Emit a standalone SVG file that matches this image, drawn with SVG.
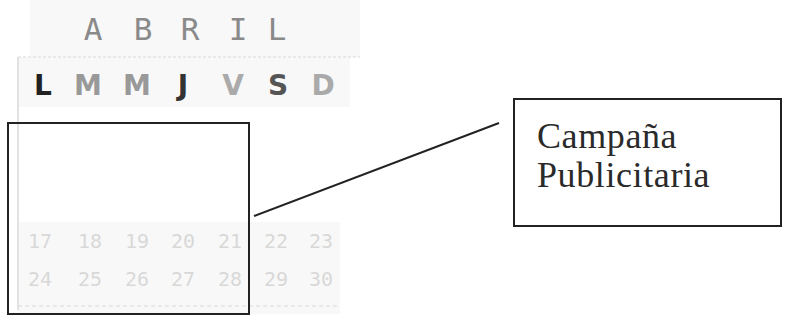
<svg xmlns="http://www.w3.org/2000/svg" width="788" height="320" viewBox="0 0 788 320">
<style>
.hdr{font-family:"DejaVu Sans Mono","Liberation Mono",monospace;font-size:31px;text-anchor:middle;fill:#8a8a8a}
.day{font-family:"DejaVu Sans",sans-serif;font-size:28px;font-weight:bold;text-anchor:middle}
.num{font-family:"DejaVu Sans Mono",monospace;font-size:20px;text-anchor:middle;fill:#d8d8d8}
.box{fill:none;stroke:#222;stroke-width:2}
.lbl{font-family:"Liberation Serif","Times New Roman",serif;font-size:36px;letter-spacing:0.6px;fill:#2a2a2a}
</style>
<rect width="788" height="320" fill="#fff"/>
<g id="calendar">
  <rect x="30" y="0" width="330" height="57" fill="#f8f8f8"/>
  <rect x="18" y="57" width="332" height="50" fill="#f8f8f8"/>
  <rect x="18" y="222" width="322" height="92" fill="#f8f8f8"/>
  <line x1="18" y1="57" x2="360" y2="57" stroke="#d8d8d8" stroke-width="1" stroke-dasharray="3 2"/>
  <line x1="18" y1="57" x2="18" y2="310" stroke="#e2e2e2" stroke-width="2"/>
  <line x1="18" y1="306" x2="340" y2="306" stroke="#dadada" stroke-width="1" stroke-dasharray="4 3"/>
  <text class="hdr" x="93" y="40">A</text>
  <text class="hdr" x="143" y="40">B</text>
  <text class="hdr" x="190" y="40">R</text>
  <text class="hdr" x="238" y="40" fill="#777">I</text>
  <text class="hdr" x="277" y="40">L</text>
  <text class="day" x="43" y="95" fill="#222">L</text>
  <text class="day" x="88" y="95" fill="#999">M</text>
  <text class="day" x="137" y="95" fill="#999">M</text>
  <text class="day" x="183" y="95" fill="#333">J</text>
  <text class="day" x="233" y="95" fill="#aaa">V</text>
  <text class="day" x="278" y="95" fill="#555">S</text>
  <text class="day" x="323" y="95" fill="#aaa">D</text>
  <text class="num" x="40" y="248">17</text>
  <text class="num" x="90" y="248">18</text>
  <text class="num" x="137" y="248">19</text>
  <text class="num" x="183" y="248">20</text>
  <text class="num" x="230" y="248">21</text>
  <text class="num" x="276" y="248">22</text>
  <text class="num" x="321" y="248">23</text>
  <text class="num" x="40" y="286">24</text>
  <text class="num" x="90" y="286">25</text>
  <text class="num" x="137" y="286">26</text>
  <text class="num" x="183" y="286">27</text>
  <text class="num" x="230" y="286">28</text>
  <text class="num" x="276" y="286">29</text>
  <text class="num" x="321" y="286">30</text>
</g>
<g id="highlight">
  <rect class="box" x="8" y="123" width="241" height="191"/>
</g>
<g id="connectors">
  <line x1="254" y1="216" x2="499" y2="123" stroke="#222" stroke-width="2"/>
</g>
<g id="callout">
  <rect class="box" x="514" y="99" width="267" height="127"/>
  <text class="lbl" x="537" y="148">Campaña</text>
  <text class="lbl" x="537" y="187">Publicitaria</text>
</g>
</svg>
